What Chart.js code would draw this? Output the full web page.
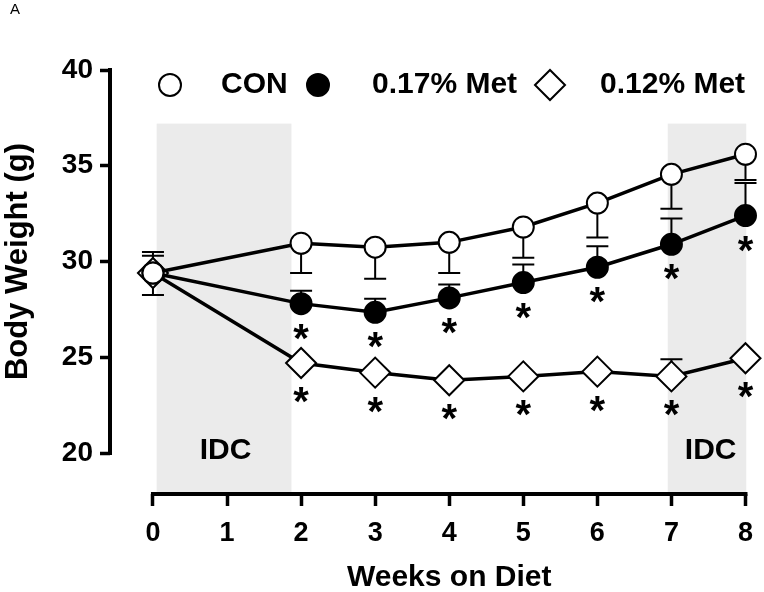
<!DOCTYPE html>
<html lang="en">
<head>
    <meta charset="UTF-8">
    <title>Body Weight on Diet</title>
    <script src="https://cdn.jsdelivr.net/npm/chart.js"></script>
    <style>
        html, body { margin: 0; padding: 0; background: #fff; }
        #wrap { position: relative; width: 764px; height: 592px; }
        #panel { position: absolute; left: 10px; top: 0px; font: 15px "Liberation Sans", Arial, sans-serif; color: #000; }
    </style>
</head>
<body>
    <div id="wrap">
        <div id="panel">A</div>
        <canvas id="bwChart" width="764" height="592"></canvas>
    </div>
    <script>
        // data
        const weeks = [0, 2, 3, 4, 5, 6, 7, 8];
        const xTicks = [0, 1, 2, 3, 4, 5, 6, 7, 8];
        const yTicks = [20, 25, 30, 35, 40];

        const conMean = [29.4, 30.95, 30.75, 31.0, 31.8, 33.05, 34.55, 35.6];
        const conErrDown = [1.15, 1.55, 1.65, 1.6, 1.6, 1.8, 1.8, 1.35];

        const met17Mean = [29.4, 27.8, 27.35, 28.1, 28.9, 29.7, 30.9, 32.4];
        const met17ErrUp = [0.9, 0.67, 0.7, 0.7, 0.95, 1.1, 1.35, 1.7];
        const met17Sig = [0, 1, 1, 1, 1, 1, 1, 1];

        const met12Mean = [29.4, 24.7, 24.2, 23.8, 24.0, 24.25, 24.0, 24.95];
        const met12ErrUp = [1.1, null, null, null, null, null, 0.9, null];
        const met12Sig = [0, 1, 1, 1, 1, 1, 1, 1];

        // IDC shaded periods (weeks)
        const idcStart = [0.05, 6.95];
        const idcEnd = [1.87, 8.01];
        const idcTop = 37.2;
        const idcLabelX = [0.98, 7.53];
        const idcLabelY = 20.1;

        const FONT = '"Liberation Sans", Arial, sans-serif';

        function pts(ys) {
            return weeks.map((w, i) => ({ x: w, y: ys[i] }));
        }

        const errBars = [
            { ds: 0, err: conErrDown, dir: -1 },
            { ds: 1, err: met17ErrUp, dir: 1 },
            { ds: 2, err: met12ErrUp, dir: 1 }
        ];

        const decor = {
            id: 'decor',
            beforeDatasetsDraw(chart) {
                const ctx = chart.ctx;
                const xs = chart.scales.x, ys = chart.scales.y;
                const area = chart.chartArea;
                ctx.save();
                // shaded IDC periods
                ctx.fillStyle = '#ebebeb';
                for (let i = 0; i < idcStart.length; i++) {
                    const x0 = xs.getPixelForValue(idcStart[i]);
                    const x1 = xs.getPixelForValue(idcEnd[i]);
                    const y0 = ys.getPixelForValue(idcTop);
                    ctx.fillRect(x0, y0, x1 - x0, area.bottom - y0);
                }
                ctx.fillStyle = '#000';
                ctx.font = 'bold 30px ' + FONT;
                ctx.textAlign = 'center';
                ctx.textBaseline = 'middle';
                for (let i = 0; i < idcLabelX.length; i++) {
                    ctx.fillText('IDC', xs.getPixelForValue(idcLabelX[i]), ys.getPixelForValue(idcLabelY));
                }

                // axis lines (offset, Prism style)
                ctx.strokeStyle = '#000';
                ctx.lineWidth = 4;
                ctx.beginPath();
                ctx.moveTo(area.left, ys.getPixelForValue(40) - 2);
                ctx.lineTo(area.left, ys.getPixelForValue(20) + 2);
                ctx.moveTo(xs.getPixelForValue(0) - 2, area.bottom);
                ctx.lineTo(xs.getPixelForValue(8) + 2, area.bottom);
                ctx.stroke();

                // error bars
                ctx.lineWidth = 2;
                errBars.forEach(eb => {
                    const ds = chart.data.datasets[eb.ds];
                    ds.data.forEach((p, i) => {
                        const e = eb.err[i];
                        if (e == null) return;
                        const px = xs.getPixelForValue(p.x);
                        const py = ys.getPixelForValue(p.y);
                        const pe = ys.getPixelForValue(p.y + eb.dir * e);
                        ctx.beginPath();
                        ctx.moveTo(px, py);
                        ctx.lineTo(px, pe);
                        ctx.moveTo(px - 11, pe);
                        ctx.lineTo(px + 11, pe);
                        ctx.stroke();
                    });
                });
                ctx.restore();
            },
            afterDatasetsDraw(chart) {
                const ctx = chart.ctx;
                ctx.save();
                ctx.fillStyle = '#000';
                ctx.font = 'bold 40px ' + FONT;
                ctx.textAlign = 'center';
                ctx.textBaseline = 'alphabetic';
                [[1, met17Sig, 26], [2, met12Sig, 30]].forEach(([di, sig, off]) => {
                    const meta = chart.getDatasetMeta(di);
                    meta.data.forEach((el, i) => {
                        if (!sig[i]) return;
                        ctx.fillText('*', el.x, el.y + off + 22);
                    });
                });
                ctx.restore();
            },
            afterDraw(chart) {
                const ctx = chart.ctx;
                const xs = chart.scales.x, ys = chart.scales.y;
                ctx.save();
                ctx.fillStyle = '#000';
                ctx.textAlign = 'center';
                ctx.textBaseline = 'middle';
                // x axis title, centred on the 0-8 axis line
                ctx.font = 'bold 30px ' + FONT;
                ctx.fillText('Weeks on Diet', (xs.getPixelForValue(0) + xs.getPixelForValue(8)) / 2, 578);
                // y axis title
                ctx.font = 'bold 31px ' + FONT;
                ctx.translate(18, (ys.getPixelForValue(40) + ys.getPixelForValue(20)) / 2);
                ctx.rotate(-Math.PI / 2);
                ctx.fillText('Body Weight (g)', 0, 0);
                ctx.restore();

                // legend
                ctx.save();
                const ly = 85;
                ctx.lineWidth = 2;
                ctx.strokeStyle = '#000';
                ctx.fillStyle = '#fff';
                ctx.beginPath(); ctx.arc(170, ly, 11, 0, Math.PI * 2); ctx.fill(); ctx.stroke();
                ctx.fillStyle = '#000';
                ctx.beginPath(); ctx.arc(318, ly, 11, 0, Math.PI * 2); ctx.fill(); ctx.stroke();
                ctx.fillStyle = '#fff';
                ctx.beginPath();
                ctx.moveTo(550 - 15, ly); ctx.lineTo(550, ly - 15);
                ctx.lineTo(550 + 15, ly); ctx.lineTo(550, ly + 15);
                ctx.closePath(); ctx.fill(); ctx.stroke();
                ctx.fillStyle = '#000';
                ctx.font = 'bold 30px ' + FONT;
                ctx.textAlign = 'left';
                ctx.textBaseline = 'middle';
                ctx.fillText(chart.data.datasets[0].label, 221, ly);
                ctx.fillText(chart.data.datasets[1].label, 372, ly);
                ctx.fillText(chart.data.datasets[2].label, 600, ly);
                ctx.restore();
            }
        };

        const ctx = document.getElementById('bwChart').getContext('2d');
        new Chart(ctx, {
            type: 'line',
            data: {
                datasets: [
                    {
                        label: 'CON',
                        data: pts(conMean),
                        borderColor: '#000',
                        borderWidth: 3.5,
                        pointStyle: 'circle',
                        pointRadius: 10.5,
                        pointBorderWidth: 2,
                        pointBackgroundColor: '#fff',
                        pointBorderColor: '#000',
                        tension: 0,
                        clip: false
                    },
                    {
                        label: '0.17% Met',
                        data: pts(met17Mean),
                        borderColor: '#000',
                        borderWidth: 3.5,
                        pointStyle: 'circle',
                        pointRadius: 10.5,
                        pointBorderWidth: 2,
                        pointBackgroundColor: '#000',
                        pointBorderColor: '#000',
                        tension: 0,
                        clip: false
                    },
                    {
                        label: '0.12% Met',
                        data: pts(met12Mean),
                        borderColor: '#000',
                        borderWidth: 3.5,
                        pointStyle: 'rectRot',
                        pointRadius: 15,
                        pointBorderWidth: 2,
                        pointBackgroundColor: '#fff',
                        pointBorderColor: '#000',
                        tension: 0,
                        clip: false
                    }
                ]
            },
            options: {
                responsive: false,
                devicePixelRatio: 1,
                animation: false,
                layout: { padding: { top: 70, right: 17, left: 0, bottom: 0 } },
                plugins: {
                    legend: { display: false },
                    tooltip: { enabled: false }
                },
                scales: {
                    x: {
                        type: 'linear',
                        min: -0.58,
                        max: 8,
                        afterBuildTicks: s => { s.ticks = xTicks.map(v => ({ value: v })); },
                        afterFit: s => { s.height = 98; },
                        border: { display: false },
                        grid: { drawOnChartArea: false, drawTicks: true, tickLength: 12, tickWidth: 3.5, tickColor: '#000' },
                        ticks: { color: '#000', font: { family: FONT, size: 27, weight: 'bold' }, padding: 11, maxRotation: 0, autoSkip: false },
                        title: { display: false }
                    },
                    y: {
                        min: 17.86,
                        max: 40,
                        afterBuildTicks: s => { s.ticks = yTicks.map(v => ({ value: v })); },
                        afterFit: s => { s.width = 110; },
                        border: { display: false },
                        grid: { drawOnChartArea: false, drawTicks: true, tickLength: 10, tickWidth: 3.5, tickColor: '#000' },
                        ticks: { color: '#000', font: { family: FONT, size: 28, weight: 'bold' }, padding: 7 },
                        title: { display: false }
                    }
                }
            },
            plugins: [decor]
        });
    </script>
</body>
</html>
